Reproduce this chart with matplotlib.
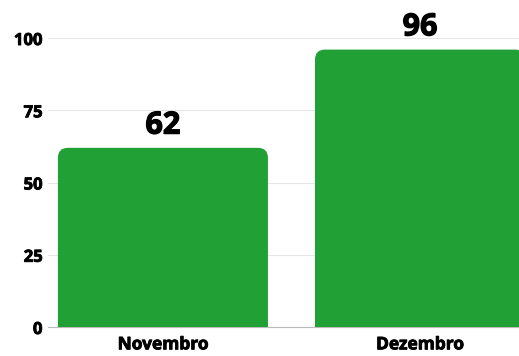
import matplotlib.pyplot as plt
import matplotlib.patheffects as pe
from matplotlib.patches import FancyBboxPatch

meses = ['Novembro', 'Dezembro']
valores = [62, 96]
yticks = [0, 25, 50, 75, 100]

verde = '#21a135'
plt.rcParams['font.family'] = ['Open Sans', 'DejaVu Sans']

fig = plt.figure(figsize=(5.19, 3.56), dpi=100)
# eixo posicionado em pixels: esquerda 48, base 327 (de cima), topo 10
ax = fig.add_axes([48 / 519, (356 - 327) / 356, 1 - 48 / 519, (327 - 10) / 356])

largura = 0.817
xs = list(range(len(meses)))
bars = ax.bar(xs, valores, width=largura, color=verde)

# substitui as barras por retangulos com cantos arredondados
raio_x = 10 / 257
aspecto = (10 / 2.89) / raio_x
for b in bars:
    b.set_visible(False)
    x0 = b.get_x()
    p = FancyBboxPatch((x0, -10), b.get_width(), b.get_height() + 10,
                       boxstyle=f'round,pad=0,rounding_size={raio_x}',
                       mutation_aspect=aspecto, fc=verde, ec='none', zorder=3)
    ax.add_patch(p)

# contorno fino para deixar o texto mais "extra bold"
grosso = [pe.withStroke(linewidth=0.9, foreground='black')]
grosso_peq = [pe.withStroke(linewidth=0.6, foreground='black')]

for x, v in zip(xs, valores):
    ax.text(x, v + 2.5, str(v), ha='center', va='bottom', fontsize=22,
            fontweight='bold', color='black', clip_on=False, path_effects=grosso)

ax.set_xlim(-0.447, 1.385)
ax.set_ylim(0, 109.7)
ax.set_yticks(yticks)
ax.set_yticklabels([str(t) for t in yticks], fontsize=12, fontweight='bold')
ax.set_xticks(xs)
ax.set_xticklabels(meses, fontsize=12.5, fontweight='bold')
for t in ax.get_xticklabels() + ax.get_yticklabels():
    t.set_path_effects(grosso_peq)
ax.tick_params(axis='y', length=0, pad=4)
ax.tick_params(axis='x', length=0, pad=6)

ax.grid(axis='y', color='#e6e6e6', linewidth=0.8, zorder=0)
ax.set_axisbelow(True)
for s in ['top', 'right', 'left']:
    ax.spines[s].set_visible(False)
ax.spines['bottom'].set_color('#bbbbbb')
ax.spines['bottom'].set_linewidth(0.8)

fig.savefig('out.png', dpi=100)
